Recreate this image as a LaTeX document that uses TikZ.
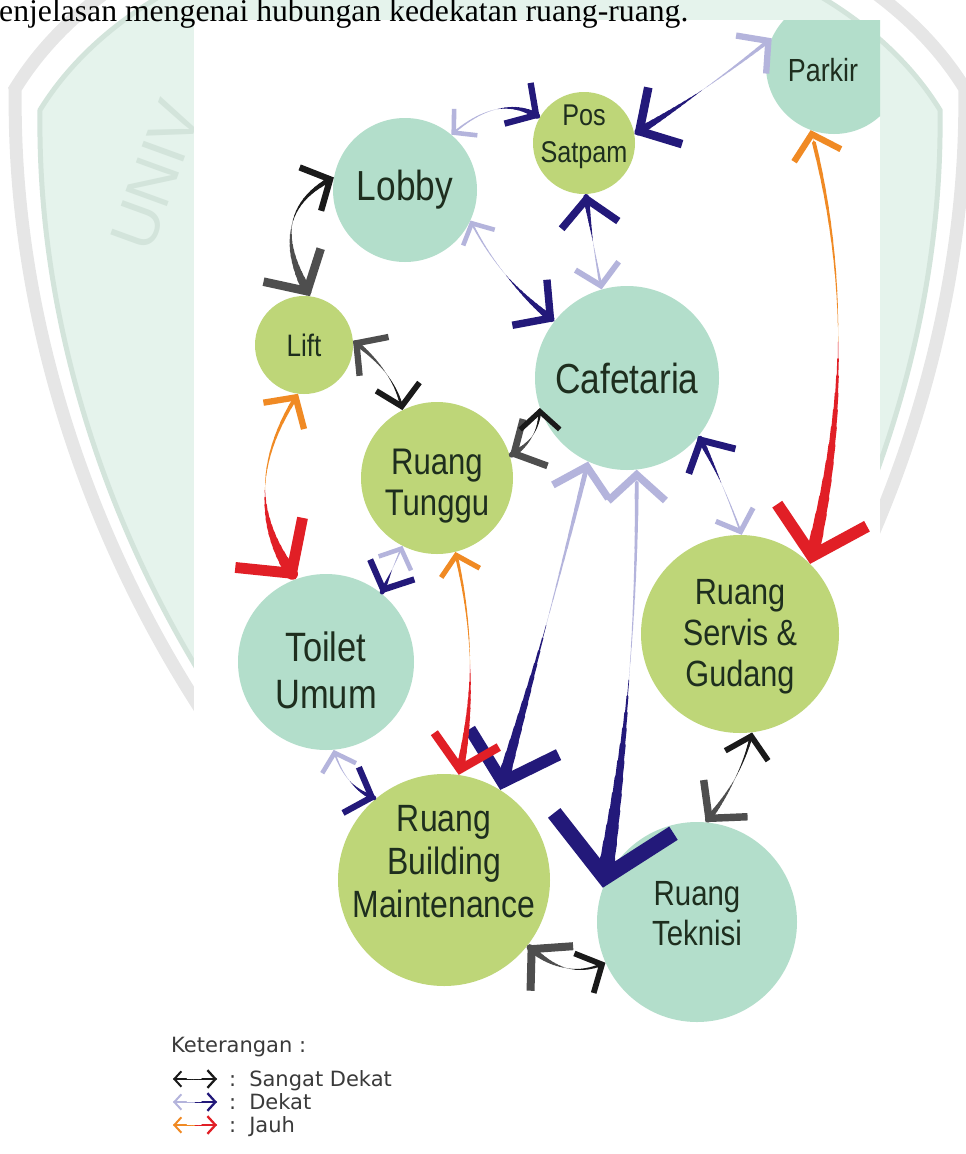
\documentclass[tikz,border=0pt]{standalone}
\usepackage{fontspec}
\setmainfont{Liberation Serif}
\newfontfamily\roomfont[FakeStretch=0.84]{Liberation Sans}
\newfontfamily\legfont{DejaVu Sans}
\newfontfamily\markfont{Liberation Sans}
\usetikzlibrary{calc, arrows.meta}

\definecolor{tosca}{HTML}{B3DECB}
\definecolor{pucuk}{HTML}{BED678}
\definecolor{ungu}{HTML}{B4B4DC}
\definecolor{biru}{HTML}{23197A}
\definecolor{oranye}{HTML}{F08A24}
\definecolor{merah}{HTML}{E11F26}
\definecolor{hitam}{HTML}{1A1A1A}
\definecolor{abu}{HTML}{4E4E4E}
\definecolor{teks}{HTML}{1E2E1E}
\definecolor{legabu}{HTML}{3A3A3A}
\definecolor{perisai}{HTML}{E5F3EC}
\definecolor{tepi}{HTML}{D3E4DB}
\definecolor{pita}{HTML}{E6E6E6}

\newcommand\sz[2]{\fontsize{#1}{#2}\selectfont}

% tapered two-colour link: start, bend point, end, colours, widths, head sizes
\newcommand\rel[9]{%
  \foreach \kk in {0,...,24}{%
    \pgfmathsetmacro\ts{0.03+0.94*\kk/24}
    \coordinate (ra) at ($(#1)!\ts!(#2)$);
    \coordinate (rb) at ($(#2)!\ts!(#3)$);
    \coordinate (r\kk) at ($(ra)!\ts!(rb)$);
  }
  \foreach \kk in {1,...,24}{%
    \pgfmathtruncatemacro\jj{\kk-1}
    \pgfmathsetmacro\tmid{(\kk-0.5)/24}
    \ifdim\tmid pt<0.5pt
      \pgfmathsetmacro\lwid{#6*(1-2*\tmid)}
      \draw[#4, line width=\lwid pt, line cap=round] (r\jj) -- (r\kk);
    \else
      \pgfmathsetmacro\lwid{#7*(2*\tmid-1)}
      \draw[#5, line width=\lwid pt, line cap=round] (r\jj) -- (r\kk);
    \fi
  }
  \pgfmathsetmacro\hwid{2.2*#8}\pgfmathsetmacro\hlw{#8/3.5}
  \draw[#4, line width=.1pt, -{Straight Barb[length=#8pt, width=\hwid pt, line width=\hlw pt]}] ($(#1)!.12!(#2)$) -- (#1);
  \pgfmathsetmacro\hwid{2.2*#9}\pgfmathsetmacro\hlw{#9/3.5}
  \draw[#5, line width=.1pt, -{Straight Barb[length=#9pt, width=\hwid pt, line width=\hlw pt]}] ($(#3)!.12!(#2)$) -- (#3);
}

\tikzset{
  room/.style = {circle, fill=#1, inner sep=0pt},
  roomtext/.style = {text=teks, align=center, inner sep=0pt},
  legtext/.style = {font=\legfont\sz{21}{23}, text=legabu, inner sep=0pt},
}

\begin{document}
\begin{tikzpicture}[x=1pt, y=-1pt]
  \useasboundingbox (0,0) rectangle (966,1154);
  \clip (0,0) rectangle (966,1154);

  % page watermark
  \draw[pita, line width=13pt, scale around={1.055:(490,500)}]
    (40,110) .. controls (200,-150) and (780,-150) .. (940,110)
    .. controls (945,450) and (760,800) .. (490,985)
    .. controls (220,800) and (35,450) .. cycle;
  \draw[tepi, line width=5pt, fill=perisai]
    (40,110) .. controls (200,-150) and (780,-150) .. (940,110)
    .. controls (945,450) and (760,800) .. (490,985)
    .. controls (220,800) and (35,450) .. cycle;
  \node[rotate=70, anchor=base west, inner sep=0pt, text=tepi,
    font=\markfont\sz{64}{64}] (univ) at (150,255) {UNIV};

  \fill[white] (194,20) rectangle (880,1154);
  \node[anchor=base west, inner sep=0pt, font=\sz{31.7}{36}] (judul) at (-1,21)
    {enjelasan mengenai hubungan kedekatan ruang-ruang.};

  \begin{scope}
    \clip (194,20) rectangle (880,1154);

    \node[room=tosca, minimum size=136pt,
      label={[roomtext, xshift=-11pt, yshift=-4pt, font=\roomfont\sz{32}{36}]center:Parkir}]
      (parkir) at (834,66) {};
    \node[room=pucuk, minimum size=102pt,
      label={[roomtext, yshift=6pt, font=\roomfont\sz{30}{37}]center:Pos\\Satpam}]
      (pos) at (584,143) {};
    \node[room=tosca, minimum size=144pt,
      label={[roomtext, font=\roomfont\sz{42}{46}]center:Lobby}]
      (lobby) at (405,190) {};
    \node[room=pucuk, minimum size=98pt,
      label={[roomtext, font=\roomfont\sz{31}{34}]center:Lift}]
      (lift) at (304,345) {};
    \node[room=tosca, minimum size=184pt,
      label={[roomtext, font=\roomfont\sz{42}{46}]center:Cafetaria}]
      (cafe) at (627,378) {};
    \node[room=pucuk, minimum size=152pt,
      label={[roomtext, yshift=-8pt, font=\roomfont\sz{37}{41}]center:Ruang\\Tunggu}]
      (tunggu) at (437,478) {};
    \node[room=tosca, minimum size=176pt,
      label={[roomtext, yshift=-8pt, font=\roomfont\sz{41}{47}]center:Toilet\\Umum}]
      (toilet) at (326,662) {};
    \node[room=pucuk, minimum size=198pt,
      label={[roomtext, yshift=-3pt, font=\roomfont\sz{36.5}{41}]center:Ruang\\Servis \&\\Gudang}]
      (servis) at (740,634) {};
    \node[room=pucuk, minimum size=212pt,
      label={[roomtext, yshift=18pt, font=\roomfont\sz{38}{43}]center:Ruang\\Building\\Maintenance}]
      (bm) at (444,880) {};
    \node[room=tosca, minimum size=200pt,
      label={[roomtext, yshift=8pt, font=\roomfont\sz{35}{40}]center:Ruang\\Teknisi}]
      (teknisi) at (697,922) {};

    % sangat dekat
    \rel{lift.83}{262,213}{lobby.170}{abu}{hitam}{9}{5}{30}{22}
    \rel{lift.5}{395,372}{tunggu.117}{abu}{hitam}{5}{3}{22}{20}
    \rel{tunggu.17}{540,440}{cafe.199}{abu}{hitam}{6}{3}{24}{18}
    \rel{servis.-83}{741,780}{teknisi.85}{hitam}{abu}{3}{6}{20}{26}
    \rel{bm.-38}{566,982}{teknisi.204}{abu}{hitam}{7}{3}{28}{20}

    % dekat
    \rel{parkir.156}{700,95}{pos.10}{ungu}{biru}{4}{8}{22}{30}
    \rel{lobby.50}{500,92}{pos.150}{ungu}{biru}{2}{6}{16}{22}
    \rel{lobby.-25}{500,280}{cafe.142}{ungu}{biru}{2}{7}{16}{26}
    \rel{pos.-88}{592,240}{cafe.106}{biru}{ungu}{6}{3}{26}{20}
    \rel{tunggu.-117}{392,570}{toilet.51}{ungu}{biru}{2}{5}{16}{22}
    \rel{cafe.-39}{722,480}{servis.89}{biru}{ungu}{6}{2}{24}{18}
    \rel{cafe.-115}{548,625}{bm.58}{ungu}{biru}{5}{12}{26}{42}
    \rel{cafe.-84}{638,681}{teknisi.160}{ungu}{biru}{4}{16}{26}{55}
    \rel{toilet.-85}{345,788}{bm.130}{ungu}{biru}{2}{5}{16}{22}

    % jauh
    \rel{parkir.-110}{866,337}{servis.45}{oranye}{merah}{4}{13}{22}{42}
    \rel{lift.-97}{233,494}{toilet.110}{oranye}{merah}{4}{12}{22}{38}
    \rel{tunggu.-76}{483,666}{bm.82}{oranye}{merah}{3}{8}{18}{30}
  \end{scope}

  % keterangan
  \node[legtext, anchor=base west] (ket) at (171,1052) {Keterangan :};
  \node[legtext, anchor=base west] (lsd) at (229,1086) {:\hspace{13pt}Sangat Dekat};
  \node[legtext, anchor=base west] (ld) at (229,1109) {:\hspace{13pt}Dekat};
  \node[legtext, anchor=base west] (lj) at (229,1132) {:\hspace{13pt}Jauh};
  \coordinate (sa) at (173,1079);
  \coordinate (sb) at (217,1079);
  \coordinate (da) at (173,1102);
  \coordinate (db) at (217,1102);
  \coordinate (ja) at (173,1125);
  \coordinate (jb) at (217,1125);
  \rel{sa}{195,1079}{sb}{hitam}{hitam}{2.5}{3}{7}{8}
  \rel{da}{195,1102}{db}{ungu}{biru}{2.5}{3}{7}{8}
  \rel{ja}{195,1125}{jb}{oranye}{merah}{2.5}{3}{7}{8}
\end{tikzpicture}
\end{document}
